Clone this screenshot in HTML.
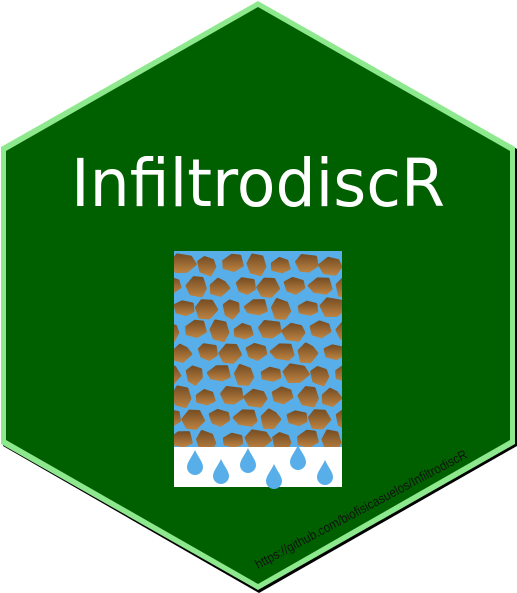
<!DOCTYPE html>
<html><head><meta charset="utf-8"><style>
html,body{margin:0;padding:0;background:#fff;}
svg{display:block;}
</style></head><body>
<svg width="517" height="593" viewBox="0 0 517 593">
<polygon points="259,3 517,149 517,446 259,593 3,446 3,149" fill="#000"/>
<polygon points="258,1 515,147 515,444 258,590 1,444 1,147" fill="#8ee88e"/>
<polygon points="258,7 510,151 510,440 258,584 6,440 6,151" fill="#006000"/>
<text x="258" y="206" text-anchor="middle" font-family="DejaVu Sans, Liberation Sans, sans-serif" font-size="66" fill="#fff" textLength="374" lengthAdjust="spacingAndGlyphs">InfiltrodiscR</text>
<defs>
<linearGradient id="soil" x1="0" y1="0" x2="0" y2="1"><stop offset="0" stop-color="#7a5025"/><stop offset="1" stop-color="#b88040"/></linearGradient>
<clipPath id="imgclip"><rect x="174" y="251" width="168" height="196"/></clipPath>
</defs>
<g>
<rect x="174" y="251" width="168" height="196" fill="#58aee8"/>
<g id="blobs" clip-path="url(#imgclip)"></g>
<rect x="174" y="447" width="168" height="40" fill="#fff"/>
<g id="drops" fill="#58aee8"></g>
</g>
<text x="0" y="0" transform="translate(258,569) rotate(-28)" font-family="Liberation Sans, DejaVu Sans, sans-serif" font-size="13" fill="#111" textLength="238" lengthAdjust="spacingAndGlyphs">https://github.com/biofisicasuelos/InfiltrodiscR</text>
</svg>
<script>
var ns="http://www.w3.org/2000/svg";
var g=document.getElementById('blobs');
var seq=[0.3,0.7,0.1,0.9,0.5,0.2,0.8,0.4,0.6,0.05,0.95,0.35,0.65,0.15,0.85,0.45,0.55,0.25,0.75,0.12,0.88];
var k=0;
function r(){k=(k+1)%seq.length;return seq[k];}
for(var y=254;y<447;y+=22){
  var off=(Math.floor((y-254)/22)%2)*12;
  for(var x=170-off;x<345;x+=25){
    var cx=x+10+r()*4, cy=y+9+r()*3, rw=8+r()*4, rh=7+r()*3;
    var pts=[];
    for(var a=0;a<6;a++){
      var ang=a*Math.PI/3+r()*0.5, s=0.8+r()*0.35;
      pts.push((cx+Math.cos(ang)*rw*s).toFixed(1)+','+(cy+Math.sin(ang)*rh*s).toFixed(1));
    }
    var el=document.createElementNS(ns,'polygon');
    el.setAttribute('points',pts.join(' '));
    el.setAttribute('fill','url(#soil)');
    el.setAttribute('stroke','url(#soil)');
    el.setAttribute('stroke-width','3');
    el.setAttribute('stroke-linejoin','round');
    
    
    g.appendChild(el);
  }
}
var dg=document.getElementById('drops');
var dx=[195,221,248,274,298,325],dy=[464,473,462,478,459,474];
for(var i=0;i<dx.length;i++){
  var p=document.createElementNS(ns,'path');
  var cx=dx[i],cy=dy[i];
  p.setAttribute('d','M'+cx+','+(cy-14)+' C'+(cx+3)+','+(cy-7)+' '+(cx+8)+','+(cy-2)+' '+(cx+8)+','+(cy+3)+' A8,8 0 1 1 '+(cx-8)+','+(cy+3)+' C'+(cx-8)+','+(cy-2)+' '+(cx-3)+','+(cy-7)+' '+cx+','+(cy-14)+'Z');
  
  
  dg.appendChild(p);
}
</script>
</body></html>
